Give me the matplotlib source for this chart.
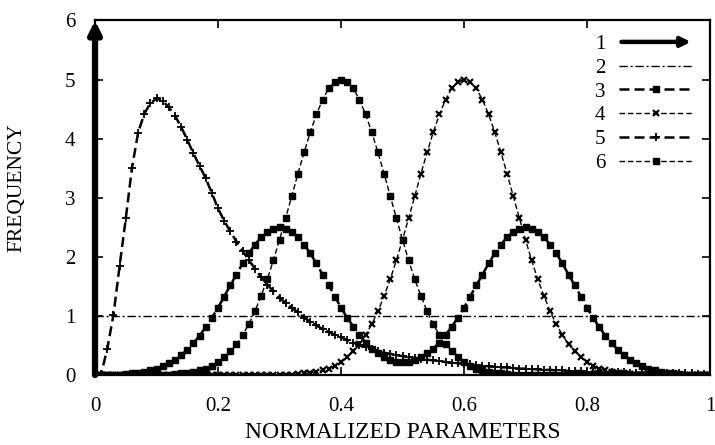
import numpy as np
import matplotlib
matplotlib.use("Agg")
import matplotlib.pyplot as plt
from matplotlib.patches import FancyArrowPatch
from matplotlib.legend_handler import HandlerBase

plt.rcParams['font.family'] = ['Liberation Serif', 'DejaVu Serif']

# sample grid of the distributions (step 0.01 on [0, 1])
x_grid = np.linspace(0.0, 1.0, 101)

# series 1: Dirac delta at 0 (drawn as a vector)
delta_x = [0.0]
delta_y0 = [0.0]
delta_y1 = [6.0]

# series 2: uniform
uniform_x = [0.0, 1.0]
uniform_y = [1.0, 1.0]

# series 3: bimodal (peaks 0.3 and 0.7)
bimodal_y = [
    0.00, 0.00, 0.01, 0.01, 0.01, 0.02, 0.03, 0.04, 0.06, 0.08,
    0.11, 0.15, 0.20, 0.26, 0.34, 0.43, 0.54, 0.67, 0.81, 0.97,
    1.14, 1.33, 1.52, 1.70, 1.89, 2.06, 2.21, 2.33, 2.42, 2.48,
    2.50, 2.48, 2.42, 2.33, 2.21, 2.06, 1.89, 1.70, 1.52, 1.33,
    1.14, 0.97, 0.82, 0.68, 0.55, 0.45, 0.37, 0.30, 0.26, 0.23,
    0.22, 0.23, 0.26, 0.30, 0.37, 0.45, 0.55, 0.68, 0.82, 0.97,
    1.14, 1.33, 1.52, 1.70, 1.89, 2.06, 2.21, 2.33, 2.42, 2.48,
    2.50, 2.48, 2.42, 2.33, 2.21, 2.06, 1.89, 1.70, 1.52, 1.33,
    1.14, 0.97, 0.81, 0.67, 0.54, 0.43, 0.34, 0.26, 0.20, 0.15,
    0.11, 0.08, 0.06, 0.04, 0.03, 0.02, 0.01, 0.01, 0.01, 0.00,
    0.00,
]

# series 4: peak at 0.6
peak06_y = [
    0.00, 0.00, 0.00, 0.00, 0.00, 0.00, 0.00, 0.00, 0.00, 0.00,
    0.00, 0.00, 0.00, 0.00, 0.00, 0.00, 0.00, 0.00, 0.00, 0.00,
    0.00, 0.00, 0.00, 0.00, 0.00, 0.00, 0.00, 0.00, 0.00, 0.00,
    0.00, 0.01, 0.01, 0.02, 0.03, 0.04, 0.06, 0.08, 0.11, 0.16,
    0.22, 0.30, 0.40, 0.52, 0.68, 0.86, 1.08, 1.34, 1.62, 1.94,
    2.29, 2.66, 3.03, 3.41, 3.77, 4.11, 4.41, 4.66, 4.85, 4.96,
    5.00, 4.96, 4.85, 4.66, 4.41, 4.11, 3.77, 3.41, 3.03, 2.66,
    2.29, 1.94, 1.62, 1.34, 1.08, 0.86, 0.68, 0.52, 0.40, 0.30,
    0.22, 0.16, 0.11, 0.08, 0.06, 0.04, 0.03, 0.02, 0.01, 0.01,
    0.00, 0.00, 0.00, 0.00, 0.00, 0.00, 0.00, 0.00, 0.00, 0.00,
    0.00,
]

# series 5: skewed, peak near 0.1
skewed_y = [
    0.00, 0.02, 0.45, 1.02, 1.85, 2.65, 3.50, 4.10, 4.42, 4.60,
    4.68, 4.64, 4.53, 4.39, 4.20, 3.98, 3.75, 3.54, 3.33, 3.08,
    2.82, 2.61, 2.43, 2.26, 2.10, 1.95, 1.80, 1.66, 1.53, 1.42,
    1.31, 1.22, 1.14, 1.06, 0.97, 0.90, 0.84, 0.78, 0.73, 0.68,
    0.64, 0.59, 0.55, 0.51, 0.47, 0.44, 0.41, 0.38, 0.36, 0.34,
    0.32, 0.30, 0.29, 0.27, 0.26, 0.25, 0.24, 0.22, 0.21, 0.20,
    0.19, 0.18, 0.17, 0.16, 0.15, 0.14, 0.13, 0.13, 0.12, 0.11,
    0.11, 0.10, 0.10, 0.09, 0.09, 0.08, 0.08, 0.07, 0.07, 0.07,
    0.06, 0.06, 0.06, 0.05, 0.05, 0.05, 0.05, 0.04, 0.04, 0.04,
    0.04, 0.04, 0.03, 0.03, 0.03, 0.03, 0.03, 0.03, 0.02, 0.02,
    0.02,
]

# series 6: peak at 0.4
peak04_y = [
    0.00, 0.00, 0.00, 0.00, 0.00, 0.00, 0.00, 0.00, 0.00, 0.00,
    0.00, 0.01, 0.01, 0.02, 0.03, 0.04, 0.06, 0.08, 0.11, 0.16,
    0.22, 0.30, 0.40, 0.52, 0.68, 0.86, 1.08, 1.34, 1.62, 1.94,
    2.29, 2.66, 3.03, 3.41, 3.77, 4.11, 4.41, 4.66, 4.85, 4.96,
    5.00, 4.96, 4.85, 4.66, 4.41, 4.11, 3.77, 3.41, 3.03, 2.66,
    2.29, 1.94, 1.62, 1.34, 1.08, 0.86, 0.68, 0.52, 0.40, 0.30,
    0.22, 0.16, 0.11, 0.08, 0.06, 0.04, 0.03, 0.02, 0.01, 0.01,
    0.00, 0.00, 0.00, 0.00, 0.00, 0.00, 0.00, 0.00, 0.00, 0.00,
    0.00, 0.00, 0.00, 0.00, 0.00, 0.00, 0.00, 0.00, 0.00, 0.00,
    0.00, 0.00, 0.00, 0.00, 0.00, 0.00, 0.00, 0.00, 0.00, 0.00,
    0.00,
]

labels = ['1', '2', '3', '4', '5', '6']
x_ticks = [0, 0.2, 0.4, 0.6, 0.8, 1]
x_ticklabels = ['0', '0.2', '0.4', '0.6', '0.8', '1']
y_ticks = [0, 1, 2, 3, 4, 5, 6]


class HandlerArrow(HandlerBase):
    def create_artists(self, legend, orig_handle, xdescent, ydescent,
                       width, height, fontsize, trans):
        y = height / 2 - ydescent
        a = FancyArrowPatch((-xdescent, y), (width - xdescent, y),
                            arrowstyle='-|>', mutation_scale=14, lw=3.2,
                            color='black', transform=trans)
        return [a]


fig = plt.figure(figsize=(7.15, 4.45), dpi=100)
ax = fig.add_axes([0.1329, 0.157, 0.993 - 0.1329, 0.954 - 0.157])

dash = (0, (4, 2))
ln2, = ax.plot(uniform_x, uniform_y, color='black', lw=1.0,
               linestyle=(0, (6, 2, 1.5, 2)), label=labels[1])
ln3, = ax.plot(x_grid, bimodal_y, color='black', lw=1.8, linestyle=dash,
               marker='s', markersize=4.2, label=labels[2])
ln4, = ax.plot(x_grid, peak06_y, color='black', lw=1.0, linestyle=dash,
               marker='x', markersize=5, markeredgewidth=1.6, label=labels[3])
ln5, = ax.plot(x_grid, skewed_y, color='black', lw=1.8, linestyle=dash,
               marker='+', markersize=6, markeredgewidth=1.3, label=labels[4])
ln6, = ax.plot(x_grid, peak04_y, color='black', lw=1.0, linestyle=dash,
               marker='s', markersize=4.6, label=labels[5])

for xd, y0, y1 in zip(delta_x, delta_y0, delta_y1):
    ax.annotate('', xy=(xd, y1), xytext=(xd, y0),
                arrowprops=dict(arrowstyle='-|>', lw=4.5, color='black',
                                mutation_scale=18, shrinkA=0, shrinkB=0),
                annotation_clip=False, zorder=5)

arrow_handle = FancyArrowPatch((0, 0), (1, 0))

ax.set_xlim(0, 1)
ax.set_ylim(0, 6)
ax.set_xticks(x_ticks)
ax.set_xticklabels(x_ticklabels)
ax.set_yticks(y_ticks)
ax.tick_params(direction='in', length=6, width=1.2, top=True, right=True,
               labelsize=15)
ax.tick_params(axis='x', pad=16)
ax.tick_params(axis='y', pad=14)
for s in ax.spines.values():
    s.set_linewidth(1.6)

ax.set_xlabel('NORMALIZED PARAMETERS', fontsize=17)
ax.set_ylabel('FREQUENCY', fontsize=15.5)
ax.xaxis.set_label_coords(0.5, -0.133)
ax.yaxis.set_label_coords(-0.112, 0.53)

handles = [arrow_handle, ln2, ln3, ln4, ln5, ln6]
leg = ax.legend(handles, labels, handler_map={arrow_handle: HandlerArrow()},
                loc='upper right', bbox_to_anchor=(1.004, 1.013),
                frameon=False, markerfirst=False, numpoints=1,
                handlelength=3.6, handletextpad=0.65, labelspacing=0.2,
                fontsize=15)

fig.savefig('out.png', dpi=100)
